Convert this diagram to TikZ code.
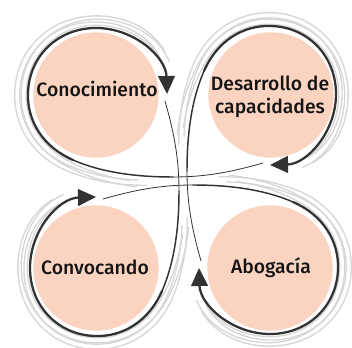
\documentclass[tikz,border=0pt]{standalone}
\usepackage{fontspec}
\setmainfont{Fira Sans}[UprightFont=* Medium]
\usetikzlibrary{arrows.meta,positioning}
\definecolor{peach}{RGB}{250,212,192}
\definecolor{ink}{RGB}{50,50,50}
\definecolor{sketch}{RGB}{214,214,214}

\tikzset{
  disc/.style={circle,fill=peach,minimum size=94pt,inner sep=0pt},
  lbl/.style={font=\fontsize{14.5}{17.5}\selectfont,text=black!92,align=center},
  tail/.style={ink,line width=0.6pt,line cap=round},
  mid/.style={ink,line width=1.1pt,line cap=round},
  swirl/.style={ink,line width=1.7pt,line cap=round,-{Triangle[length=13.5pt,width=12.5pt]}},
  pencil/.style={sketch,line width=1pt,line cap=round}
}

\begin{document}
\begin{tikzpicture}[x=0.75pt,y=-0.75pt]
	\useasboundingbox (0,0) rectangle (352,348);
	\node[disc] (know) at (96,95) {};
	\node[disc] (skills) at (271,95) {};
	\node[disc] (advocacy) at (270,268) {};
	\node[disc] (convene) at (96,268) {};
	% the four loops, turned round the middle
	\foreach \ang in {0,-90,-180,-270}{
	\begin{scope}[shift={(183,181)},rotate=\ang]
		\foreach \s/\r/\d in {1.04/-4/1,1.09/3/-2,1.13/-2/2,1.18/5/-1}
		\draw[pencil,shift={(-87+\d,-86)},scale=\s,rotate=\r,shift={(87,86)}] (-50,-6) .. controls (-75,-8) and (-95,-14) .. (-110,-21) .. controls (-140,-34) and (-156,-60) .. (-155,-88) .. controls (-154,-125) and (-125,-153) .. (-87,-153) .. controls (-60,-153) and (-35,-140) .. (-25,-118);
		\draw[tail] (80,-18) .. controls (45,-8) and (20,-4) .. (-10,-4);
		\draw[mid] (-10,-4) .. controls (-45,-4) and (-80,-8) .. (-110,-21);
		\draw[swirl] (-110,-21) .. controls (-140,-34) and (-156,-60) .. (-155,-88) .. controls (-154,-125) and (-125,-153) .. (-87,-153) .. controls (-49,-153) and (-17,-124) .. (-16,-87);
	\end{scope}
	}
	\node[lbl,anchor=base] (t1) at (97,97) {Conocimiento};
	\node[lbl] (t2) at (270,97) {Desarrollo de\\capacidades};
	\node[lbl,anchor=base] (t3) at (271,273) {Abogacía};
	\node[lbl,anchor=base] (t4) at (95,274.5) {Convocando};
\end{tikzpicture}
\end{document}
